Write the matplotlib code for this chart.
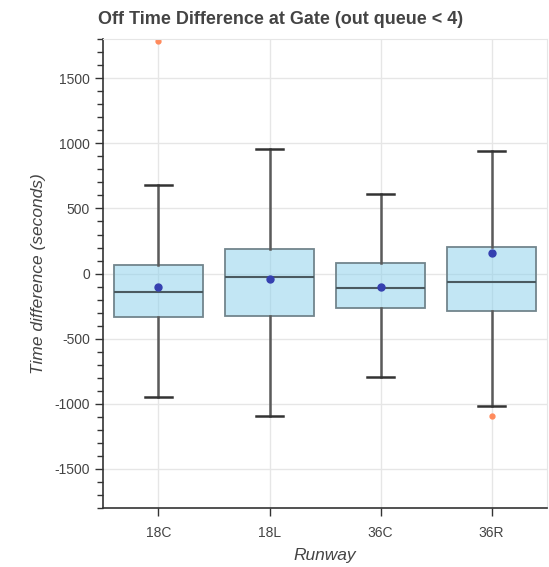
import matplotlib
matplotlib.use("Agg")
import matplotlib.pyplot as plt
from matplotlib.ticker import MultipleLocator

runways = ["18C", "18L", "36C", "36R"]
q1 = [-335, -322, -268, -286]
med = [-140, -25, -107, -61]
q3 = [67, 186, 79, 205]
means = [-100, -45, -105, 156]
wlo = [-948, -1096, -797, -1019]
whi = [677, 958, 611, 939]
fliers = [[1785], [], [], [-1093]]

stats = []
for i in range(len(runways)):
    stats.append(dict(label=runways[i], q1=q1[i], med=med[i], q3=q3[i],
                      mean=means[i], whislo=wlo[i], whishi=whi[i], fliers=fliers[i]))

plt.rcParams['font.family'] = ['Liberation Sans', 'DejaVu Sans']
plt.rcParams['axes.unicode_minus'] = False

fig = plt.figure(figsize=[5.49, 5.67], dpi=100)
ax = fig.add_axes([0.1876, 0.104, 0.8088, 0.827])

ax.grid(True, color='#e6e6e6', linewidth=1, zorder=0)
ax.set_axisbelow(True)

ax.bxp(stats, positions=range(len(runways)), widths=0.8, capwidths=0.25,
       patch_artist=True, showmeans=True, showfliers=True,
       boxprops=dict(facecolor=(0.53, 0.81, 0.92, 0.5), edgecolor='#72858c', linewidth=1.3),
       medianprops=dict(color='#4a5a60', linewidth=1.5),
       whiskerprops=dict(color='#5a5a5a', linewidth=1.8),
       capprops=dict(color='#333333', linewidth=1.8),
       meanprops=dict(marker='o', markerfacecolor='#3540b0', markeredgecolor='#3540b0', markersize=5),
       flierprops=dict(marker='o', markerfacecolor='#ff8a5c', markeredgecolor='#ff8a5c', markersize=3.5))

ax.set_xlim(-0.5, 3.5)
ax.set_ylim(-1800, 1800)
ax.yaxis.set_major_locator(MultipleLocator(500))
ax.yaxis.set_minor_locator(MultipleLocator(100))
ax.tick_params(axis='y', which='major', length=6, width=1, color='#333333', labelsize=10, labelcolor='#444444')
ax.tick_params(axis='y', which='minor', length=4, width=1, color='#333333')
ax.tick_params(axis='x', which='major', length=6, width=1, color='#333333', labelsize=10, labelcolor='#444444', pad=7)

for s in ['top', 'right']:
    ax.spines[s].set_color('#e6e6e6')
for s in ['left', 'bottom']:
    ax.spines[s].set_color('#333333')
    ax.spines[s].set_linewidth(1.2)

ax.set_ylabel('Time difference (seconds)', fontsize=12.5, style='italic', color='#444444', labelpad=6)
ax.set_xlabel('Runway', fontsize=12.5, style='italic', color='#444444', labelpad=6)
fig.text(0.178, 0.966, 'Off Time Difference at Gate (out queue < 4)', fontsize=13,
         fontweight='bold', color='#444444', ha='left', va='center')

plt.savefig('out.png', dpi=100)
